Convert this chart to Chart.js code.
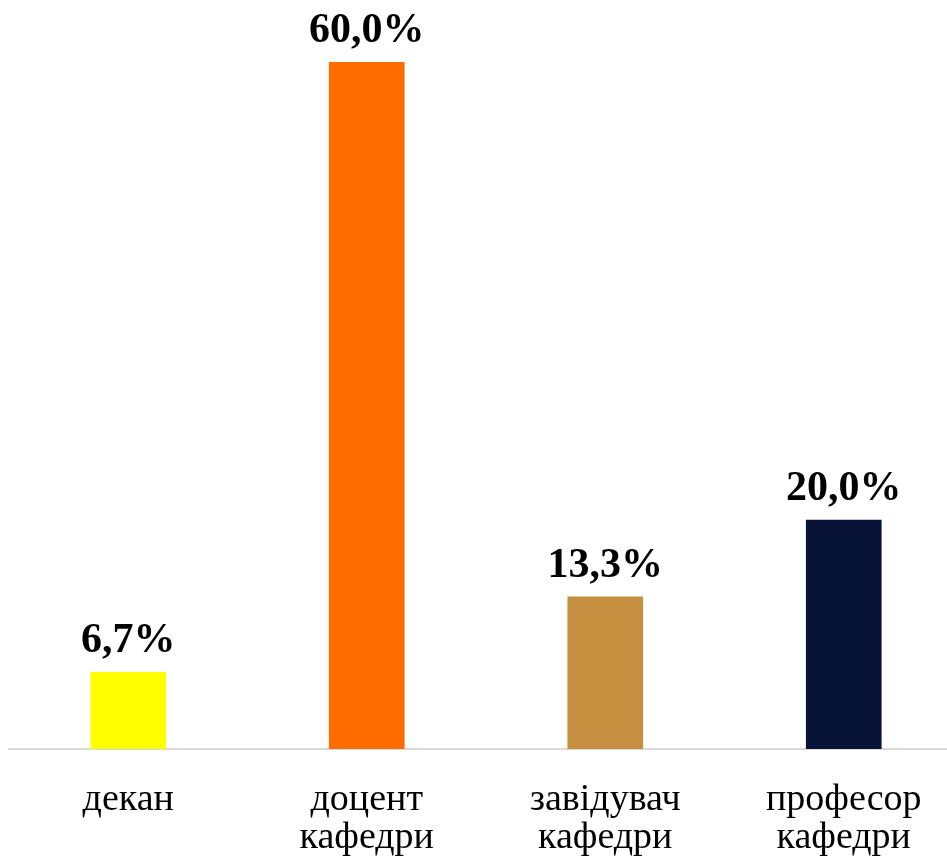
<!DOCTYPE html>
<html>
<head>
<meta charset="utf-8">
<script src="https://cdn.jsdelivr.net/npm/chart.js@4"></script>
<style>
  html, body { margin: 0; padding: 0; background: #fff; overflow: hidden; }
  .chart-wrap { position: relative; width: 965px; height: 859px; }
</style>
</head>
<body>
<div class="chart-wrap">
  <canvas id="chartPositions"></canvas>
</div>
<script>
// categories and values (percent)
const categories = [['декан'], ['доцент', 'кафедри'], ['завідувач', 'кафедри'], ['професор', 'кафедри']];
const shares = [6.7, 60.0, 13.3, 20.0];
const barColors = ['#FFFF00', '#FF6D00', '#C68E3F', '#061236'];

const SERIF = "'Liberation Serif', 'Times New Roman', serif";

// value labels above bars, comma decimal
const valueLabels = {
  id: 'valueLabels',
  afterDatasetsDraw(chart) {
    const ctx = chart.ctx;
    const meta = chart.getDatasetMeta(0);
    ctx.save();
    ctx.font = 'bold 42px ' + SERIF;
    ctx.fillStyle = '#000';
    ctx.textAlign = 'center';
    ctx.textBaseline = 'alphabetic';
    meta.data.forEach(function(bar, i) {
      const txt = shares[i].toFixed(1).replace('.', ',') + '%';
      ctx.fillText(txt, bar.x, bar.y - 20);
    });
    ctx.restore();
  }
};

new Chart(document.getElementById('chartPositions').getContext('2d'), {
  type: 'bar',
  data: {
    labels: categories,
    datasets: [{
      data: shares,
      backgroundColor: barColors,
      borderWidth: 0,
      barThickness: 75
    }]
  },
  options: {
    responsive: true,
    maintainAspectRatio: false,
    animation: false,
    layout: { padding: { top: 5, left: 9, right: 2, bottom: 0 } },
    plugins: {
      legend: { display: false },
      tooltip: { enabled: false }
    },
    scales: {
      x: {
        grid: { display: false, drawTicks: false },
        border: { color: '#d9d9d9', width: 2 },
        ticks: {
          color: '#000',
          font: { family: SERIF, size: 38, lineHeight: 1.0 },
          padding: 32,
          maxRotation: 0,
          autoSkip: false
        },
        afterFit: function(scale) { scale.height = 110; }
      },
      y: {
        display: false,
        min: 0,
        max: 65
      }
    }
  },
  plugins: [valueLabels]
});
</script>
</body>
</html>
